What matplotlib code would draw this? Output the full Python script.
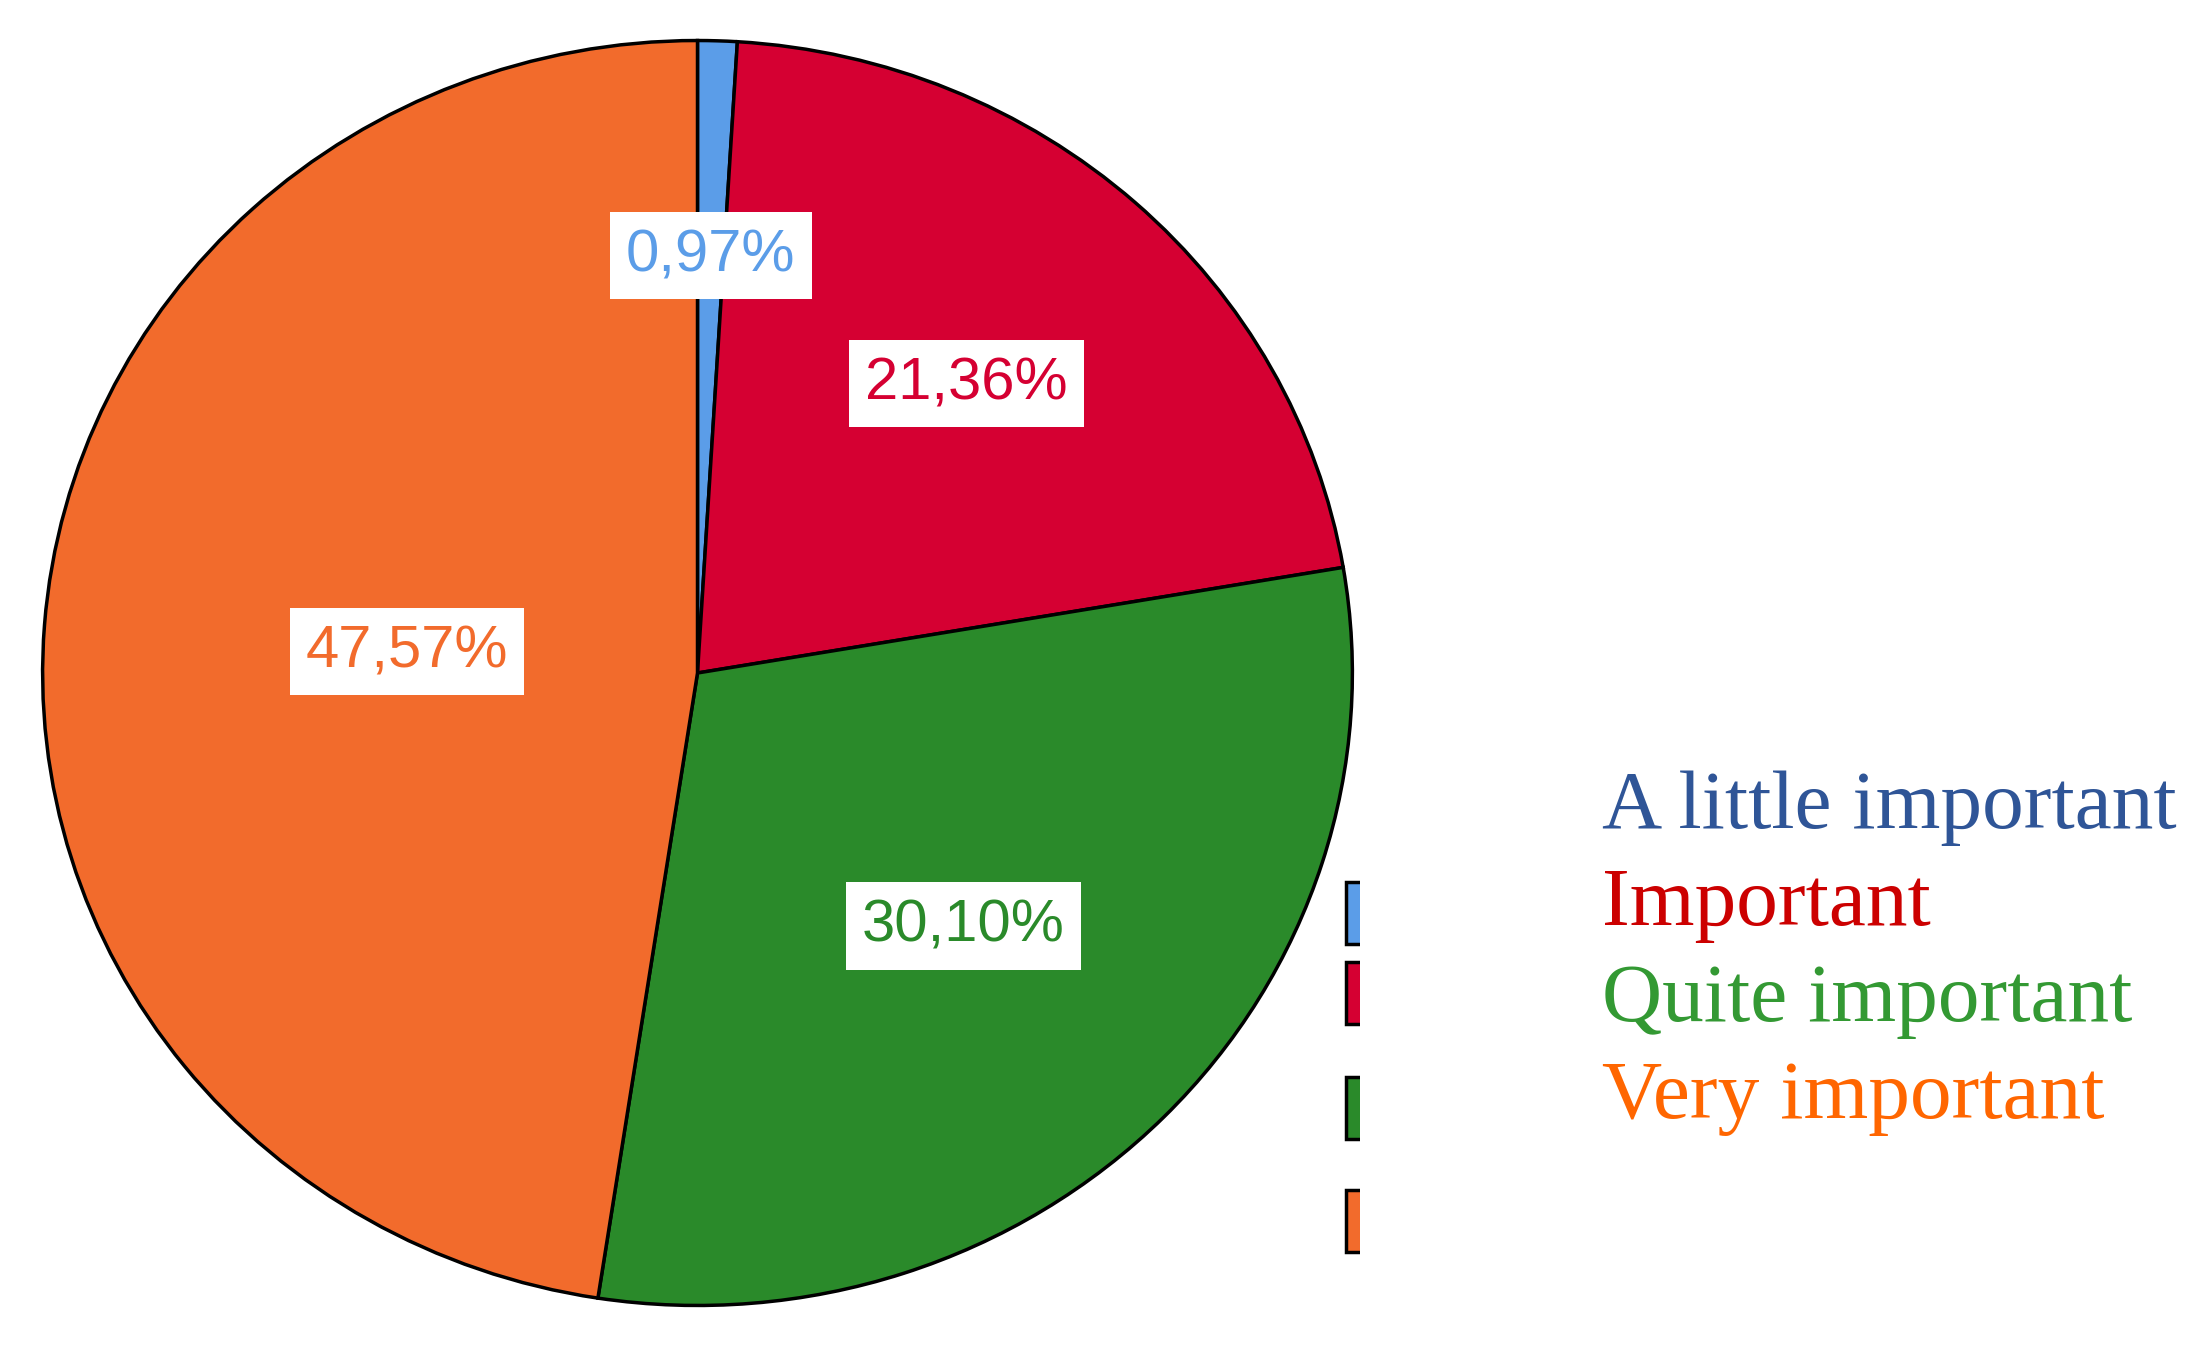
import numpy as np
import matplotlib
matplotlib.use("Agg")
import matplotlib.pyplot as plt
from matplotlib.patches import Rectangle

categories = ["A little important", "Important", "Quite important", "Very important"]
shares = [0.97, 21.36, 30.10, 47.57]
wedge_colors = ["#5b9de8", "#d50032", "#2a8a2a", "#f26b2c"]
legend_colors = ["#2f5597", "#cc0000", "#339933", "#ff6600"]
label_radius = [0.66, 0.615, 0.57, 0.445]

W, H = 2204, 1350
fig = plt.figure(figsize=(W / 100, H / 100), dpi=100)

# pie is slightly wider than tall in the reference, so no equal aspect
ax = fig.add_axes([40 / W, 1 - 1308 / H, 1315 / W, 1270 / H])
wedges, _ = ax.pie(shares, colors=wedge_colors, startangle=90, counterclock=False,
                   wedgeprops=dict(edgecolor="black", linewidth=2.5))
ax.set_aspect("auto")
ax.set_xlim(-1.004, 1.004)
ax.set_ylim(-1.004, 1.004)

for w, val, col, r in zip(wedges, shares, wedge_colors, label_radius):
    mid = np.deg2rad((w.theta1 + w.theta2) / 2)
    txt = f"{val:.2f}%".replace(".", ",")
    ax.text(r * np.cos(mid), r * np.sin(mid), txt, ha="center", va="center",
            fontsize=43, color=col, family="Liberation Sans",
            bbox=dict(boxstyle="square,pad=0.27", facecolor="white", edgecolor="none"))

# legend swatches, cut off on their right side like the original
lax = fig.add_axes([1340 / W, 1 - 1265 / H, 20 / W, 395 / H])
lax.set_xlim(1340, 1360)
lax.set_ylim(1265, 870)
lax.axis("off")
swatch_tops = [882, 962, 1077, 1190]
for top, col in zip(swatch_tops, wedge_colors):
    lax.add_patch(Rectangle((1346, top), 40, 62, facecolor=col, edgecolor="black",
                            linewidth=2.5, clip_on=True))

for i, (name, col) in enumerate(zip(categories, legend_colors)):
    fig.text(1602 / W, 1 - (828 + i * 96.7) / H, name, color=col, fontsize=60,
             family="Liberation Serif", va="baseline", ha="left")

fig.savefig("out.png", dpi=100, facecolor="white")
